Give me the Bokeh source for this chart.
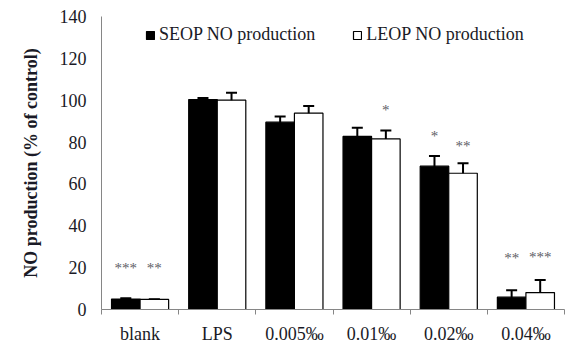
from bokeh.plotting import figure
from bokeh.models import (ColumnDataSource, Range1d, FixedTicker, Whisker, TeeHead,
                          Legend, LegendItem)
from bokeh.core.properties import value
from bokeh.embed import file_html
from bokeh.resources import INLINE

categories = ["blank", "LPS", "0.005\u2030", "0.01\u2030", "0.02\u2030", "0.04\u2030"]
seop = [5.0, 100.3, 89.5, 82.7, 68.5, 5.9]
seop_err = [0.4, 0.8, 2.7, 4.2, 4.9, 3.3]
leop = [4.8, 100.0, 93.8, 81.5, 65.1, 8.1]
leop_err = [0.0, 3.6, 3.4, 4.0, 4.8, 6.0]
seop_stars = ["***", "", "", "", "*", "**"]
seop_star_y = [20.0, 0, 0, 0, 82.8, 24.5]
leop_stars = ["**", "", "", "*", "**", "***"]
leop_star_y = [20.0, 0, 0, 95.5, 78.3, 25.3]
yticks = [0, 20, 40, 60, 80, 100, 120, 140]

FONT = "'Liberation Serif', 'Times New Roman', serif"
TXT = "#1a1a26"
AXC = "#868686"
n = len(categories)
w = 0.37
off = w / 2

centers = [i + 0.5 for i in range(n)]
src_s = ColumnDataSource(dict(x=[c - off for c in centers], top=seop,
                              up=[v + e for v, e in zip(seop, seop_err)],
                              lo=[v - e for v, e in zip(seop, seop_err)]))
src_l = ColumnDataSource(dict(x=[c + off for c in centers], top=leop,
                              up=[v + e for v, e in zip(leop, leop_err)],
                              lo=[v - e for v, e in zip(leop, leop_err)]))

p = figure(width=581, height=349, output_backend="svg", toolbar_location=None,
           x_range=Range1d(0, n), y_range=Range1d(0, 140),
           min_border_left=101, min_border_right=17, min_border_top=16, min_border_bottom=40)
p.outline_line_color = None
p.xgrid.visible = False
p.ygrid.visible = False
p.background_fill_color = "white"
p.border_fill_color = "white"

r1 = p.vbar(x="x", top="top", width=w, source=src_s, fill_color="black",
            line_color="black", line_width=1.2)
r2 = p.vbar(x="x", top="top", width=w, source=src_l, fill_color="white",
            line_color="black", line_width=1.2)

for src in (src_s, src_l):
    wk = Whisker(base="x", upper="up", lower="lo", source=src, dimension="height",
                 line_color="black", line_width=2,
                 upper_head=TeeHead(size=11, line_width=2, line_color="black"),
                 lower_head=TeeHead(size=11, line_width=2, line_color="black"))
    p.add_layout(wk)

star_src = ColumnDataSource(dict(
    x=[c - off for c in centers] + [c + off for c in centers],
    y=seop_star_y + leop_star_y,
    t=seop_stars + leop_stars))
p.text(x="x", y="y", text="t", source=star_src, text_align="center",
       text_baseline="middle", text_font=value(FONT), text_font_size="15px",
       text_color="#5e5e66")

# axes
p.yaxis.ticker = FixedTicker(ticks=yticks)
p.yaxis.axis_line_color = AXC
p.yaxis.major_tick_out = 0
p.yaxis.minor_tick_out = 0
p.yaxis.major_tick_in = 0
p.yaxis.minor_tick_in = 0
p.yaxis.major_label_text_font = FONT
p.yaxis.major_label_text_font_size = "18px"
p.yaxis.major_label_text_color = TXT
p.yaxis.major_label_standoff = 15
p.yaxis.axis_label = "NO production (% of control)"
p.yaxis.axis_label_text_font = FONT
p.yaxis.axis_label_text_font_style = "bold"
p.yaxis.axis_label_text_font_size = "18px"
p.yaxis.axis_label_text_color = TXT
p.yaxis.axis_label_standoff = 16

p.xaxis.ticker = FixedTicker(ticks=centers, minor_ticks=list(range(n + 1)))
p.xaxis.major_label_overrides = {c: lab for c, lab in zip(centers, categories)}
p.xaxis.axis_line_color = AXC
p.xaxis.major_tick_out = 0
p.xaxis.major_tick_in = 0
p.xaxis.minor_tick_out = 5
p.xaxis.minor_tick_in = 0
p.xaxis.minor_tick_line_color = AXC
p.xaxis.major_label_text_font = FONT
p.xaxis.major_label_text_font_size = "18px"
p.xaxis.major_label_text_color = TXT
p.xaxis.major_label_standoff = 9

legend = Legend(items=[LegendItem(label="SEOP NO production", renderers=[r1]),
                       LegendItem(label="LEOP NO production", renderers=[r2])],
                orientation="horizontal", location=(44, 264),
                glyph_width=10, glyph_height=10, label_standoff=4, spacing=37,
                padding=0, margin=0, border_line_color=None, background_fill_alpha=0,
                label_text_font=FONT, label_text_font_size="18px", label_text_color=TXT)
p.add_layout(legend)

open("out.html", "w").write(file_html(p, INLINE))
